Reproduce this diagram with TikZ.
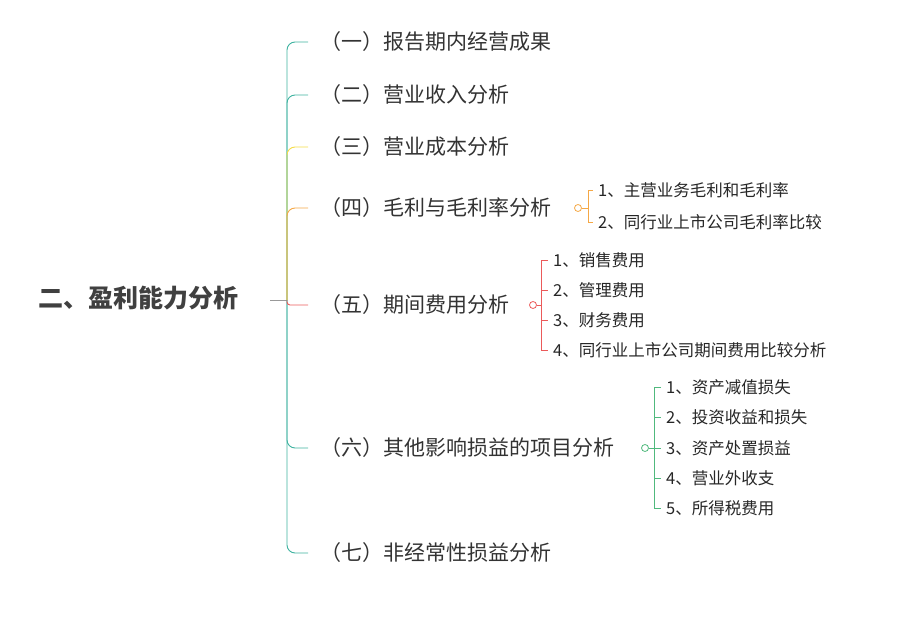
\documentclass[tikz,border=0pt]{standalone}
\usepackage{fontspec}
\setmainfont{Noto Sans CJK SC}
\begin{document}
\begin{tikzpicture}[x=1pt,y=-1pt,
  br/.style={font=\fontsize{21}{24}\selectfont, text=black!80, anchor=west, inner sep=0},
  sub/.style={font=\fontsize{16.5}{20}\selectfont, text=black!85, anchor=west, inner sep=0},
  lk/.style={line width=0.9pt, rounded corners=8pt},
  knob/.style={circle, draw, line width=0.8pt, minimum size=7pt, inner sep=0}]
\useasboundingbox (0,0) rectangle (900,639);
\colorlet{cteal}{rgb,255:red,62;green,178;blue,160}
\colorlet{cyel}{rgb,255:red,245;green,220;blue,70}
\colorlet{corg}{rgb,255:red,245;green,168;blue,70}
\colorlet{cred}{rgb,255:red,235;green,90;blue,90}
\colorlet{cgrn}{rgb,255:red,80;green,185;blue,125}
\node[font=\bfseries\fontsize{25}{28}\selectfont, text=black!75, inner sep=0] (root) at (138,298) {二、盈利能力分析};
\coordinate (hub) at (287,300);
\draw[black!40, line width=0.8pt] (270,300) -- (hub);
\node[br] (b1) at (320,42) {（一）报告期内经营成果};
\node[br] (b2) at (320,95) {（二）营业收入分析};
\node[br] (b3) at (320,147) {（三）营业成本分析};
\node[br] (b4) at (320,208) {（四）毛利与毛利率分析};
\node[br] (b5) at (320,305) {（五）期间费用分析};
\node[br] (b6) at (320,448) {（六）其他影响损益的项目分析};
\node[br] (b7) at (320,553) {（七）非经常性损益分析};
\draw[lk,cteal] (hub) |- ([xshift=-12pt]b1.west);
\draw[lk,cteal] (hub) |- ([xshift=-12pt]b2.west);
\draw[lk,cyel] (hub) |- ([xshift=-12pt]b3.west);
\draw[lk,corg] (hub) |- ([xshift=-12pt]b4.west);
\draw[lk,cteal] (hub) |- ([xshift=-12pt]b7.west);
\draw[lk,cteal] (hub) |- ([xshift=-12pt]b6.west);
\draw[lk,cred,rounded corners=3pt] (hub) |- ([xshift=-12pt]b5.west);
% 四
\node[knob,corg] (k4) at (578,208) {};
\node[sub] (s41) at (598,190) {1、主营业务毛利和毛利率};
\node[sub] (s42) at (598,222) {2、同行业上市公司毛利率比较};
\draw[corg,line width=0.8pt] (k4) -- (588,208);
\draw[corg,line width=0.8pt] ([xshift=-5pt]s41.west) -- (588,190) -- (588,222) -- ([xshift=-5pt]s42.west);
% 五
\node[knob,cred] (k5) at (533,305) {};
\node[sub] (s51) at (553,260) {1、销售费用};
\node[sub] (s52) at (553,290) {2、管理费用};
\node[sub] (s53) at (553,320) {3、财务费用};
\node[sub] (s54) at (553,350) {4、同行业上市公司期间费用比较分析};
\draw[cred,line width=0.8pt] (k5) -- (541,305);
\draw[cred,line width=0.8pt] ([xshift=-5pt]s51.west) -- (541,260) -- (541,350) -- ([xshift=-5pt]s54.west);
\foreach \s in {s52,s53} \draw[cred,line width=0.8pt] (541,0 |- \s.west) -- ([xshift=-5pt]\s.west);
% 六
\node[knob,cgrn] (k6) at (645,448) {};
\node[sub] (s61) at (666,387) {1、资产减值损失};
\node[sub] (s62) at (666,417) {2、投资收益和损失};
\node[sub] (s63) at (666,448) {3、资产处置损益};
\node[sub] (s64) at (666,478) {4、营业外收支};
\node[sub] (s65) at (666,508) {5、所得税费用};
\draw[cgrn,line width=0.8pt] (k6) -- (654,448);
\draw[cgrn,line width=0.8pt] ([xshift=-5pt]s61.west) -- (654,387) -- (654,508) -- ([xshift=-5pt]s65.west);
\foreach \s in {s62,s63,s64} \draw[cgrn,line width=0.8pt] (654,0 |- \s.west) -- ([xshift=-5pt]\s.west);
\end{tikzpicture}
\end{document}
